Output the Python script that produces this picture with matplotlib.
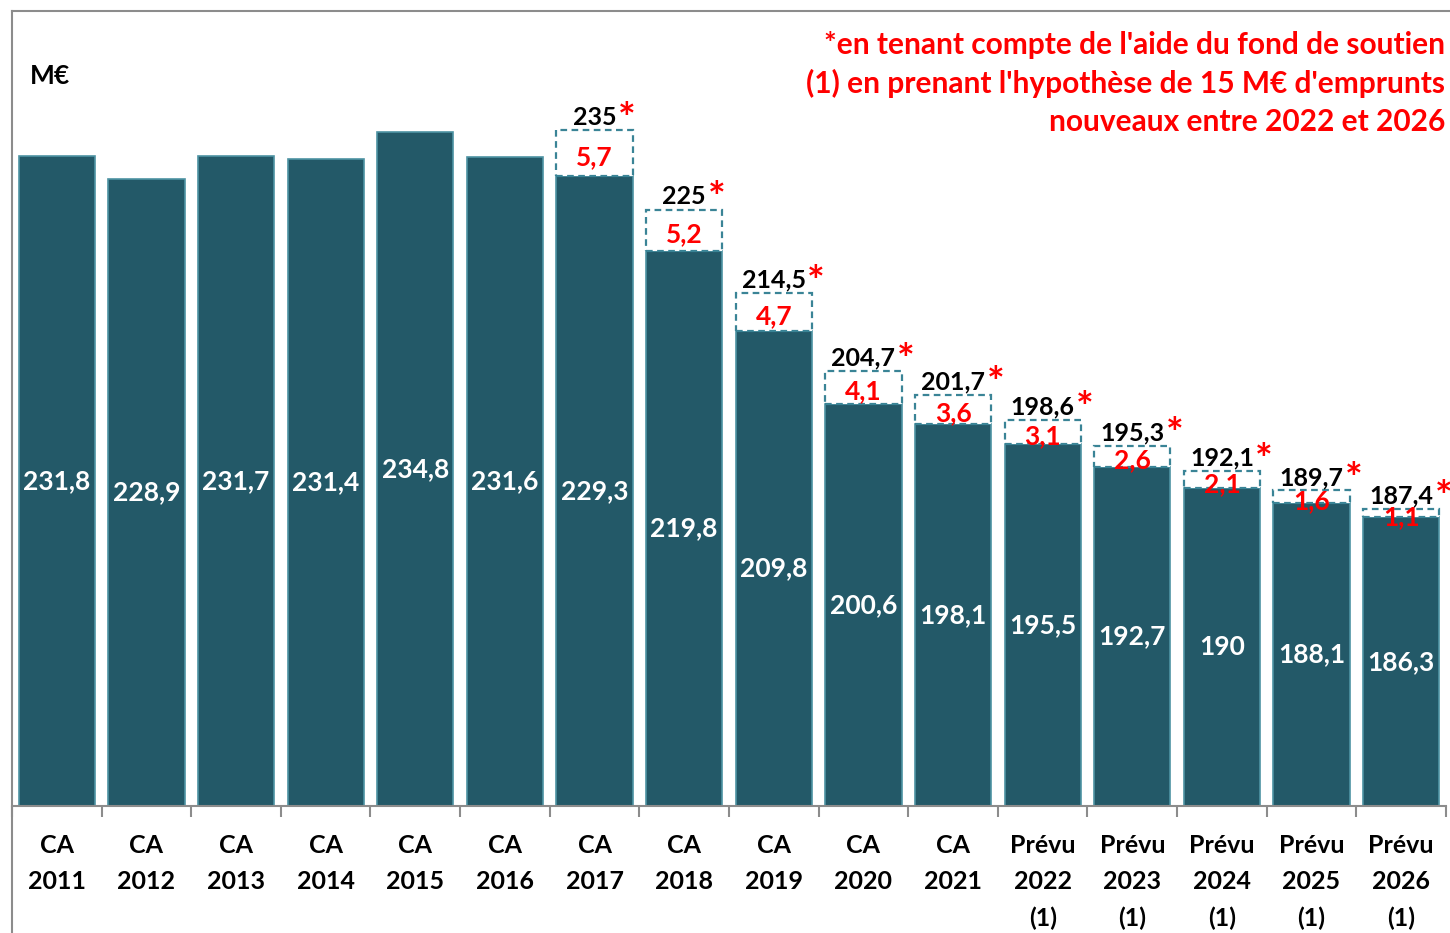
import matplotlib.pyplot as plt
from matplotlib.lines import Line2D
from matplotlib.ticker import FixedLocator

plt.rcParams['font.family'] = ['Lato', 'DejaVu Sans']
plt.rcParams['font.weight'] = 'bold'

# Données (M€)
categories = ['CA\n2011', 'CA\n2012', 'CA\n2013', 'CA\n2014', 'CA\n2015', 'CA\n2016',
              'CA\n2017', 'CA\n2018', 'CA\n2019', 'CA\n2020', 'CA\n2021',
              'Prévu\n2022\n(1)', 'Prévu\n2023\n(1)', 'Prévu\n2024\n(1)',
              'Prévu\n2025\n(1)', 'Prévu\n2026\n(1)']
base_values = [231.8, 228.9, 231.7, 231.4, 234.8, 231.6, 229.3, 219.8,
               209.8, 200.6, 198.1, 195.5, 192.7, 190, 188.1, 186.3]
aide_values = [0, 0, 0, 0, 0, 0, 5.7, 5.2, 4.7, 4.1, 3.6, 3.1, 2.6, 2.1, 1.6, 1.1]
legend_lines = ["*en tenant compte de l'aide du fond de soutien",
                "(1) en prenant l'hypothèse de 15 M€ d'emprunts",
                "nouveaux entre 2022 et 2026"]

def fr(v):
    s = f"{v:.1f}".replace('.', ',')
    return s[:-2] if s.endswith(',0') else s

W, H = 1450, 933
fig = plt.figure(figsize=(W / 100, H / 100), dpi=100)
ax = fig.add_axes([12 / W, 1 - 806 / H, 1434 / W, 795 / H])

x = list(range(len(categories)))
bar_col = '#235968'
ax.bar(x, base_values, width=0.85, bottom=0, color=bar_col,
       edgecolor='#4e93a3', linewidth=1.2, zorder=2)

for i, (b, a) in enumerate(zip(base_values, aide_values)):
    ax.text(i, (150 + b) / 2, fr(b), color='white', fontsize=19,
            ha='center', va='center', zorder=4)
    if a > 0:
        ax.bar(i, a, width=0.85, bottom=b, color='white', edgecolor='#3a8496',
               linewidth=1.6, linestyle=(0, (3, 2)), zorder=2)
        ax.annotate(fr(a), xy=(i, b + a / 2), xytext=(0, -3),
                    textcoords='offset points', color='#ff0000', fontsize=19,
                    ha='center', va='center', zorder=5)
        t = ax.annotate(fr(b + a), xy=(i, b + a), xytext=(0, 1),
                        textcoords='offset points', color='black', fontsize=18,
                        ha='center', va='bottom', zorder=5)
        ax.annotate('*', xy=(1, 1), xycoords=t, xytext=(1, 3),
                    textcoords='offset points', color='#ff0000', fontsize=30,
                    ha='left', va='top', zorder=5)

ax.set_xlim(-0.5, len(categories) - 0.5)
ax.set_ylim(150, 250)
ax.set_yticks([])
ax.set_xticks(x)
ax.set_xticklabels(categories, fontsize=18, linespacing=1.7)
ax.xaxis.set_minor_locator(FixedLocator([i - 0.5 for i in range(len(categories) + 1)]))
ax.tick_params(axis='x', which='major', length=0, pad=20)
ax.tick_params(axis='x', which='minor', length=8, width=1.5, color='#8c8c8c')
for s in ['top', 'right', 'left']:
    ax.spines[s].set_visible(False)
ax.spines['bottom'].set_color('#8c8c8c')
ax.spines['bottom'].set_linewidth(1.5)

# cadre du graphique
fig.add_artist(Line2D([12 / W, 12 / W], [0, 1 - 11 / H], color='#8c8c8c', lw=1.5))
fig.add_artist(Line2D([12 / W, 1], [1 - 11 / H, 1 - 11 / H], color='#8c8c8c', lw=1.5))

fig.text(30 / W, 1 - 76 / H, 'M€', fontsize=19, ha='left', va='center')
for k, line in enumerate(legend_lines):
    fig.text(1445 / W, 1 - (45 + 38.5 * k) / H, line, color='#ff0000',
             fontsize=21.5, ha='right', va='center')

fig.savefig('out.png', dpi=100)
